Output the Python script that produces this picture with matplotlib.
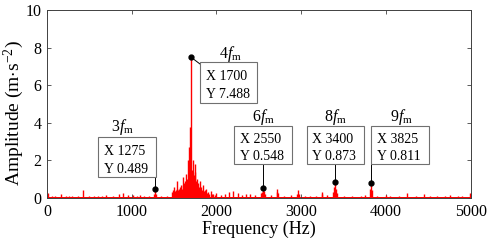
import matplotlib
matplotlib.use("Agg")
import matplotlib.pyplot as plt
from matplotlib.patches import Rectangle

plt.rcParams['font.family'] = ['Liberation Serif', 'DejaVu Serif']
plt.rcParams['mathtext.fontset'] = 'custom'
plt.rcParams['mathtext.rm'] = 'Liberation Serif'
plt.rcParams['mathtext.it'] = 'Liberation Serif:italic'

# spectrum spikes (Hz, m/s^2)
spike_freq = [10, 60, 100, 170, 220, 260, 300, 360, 425, 500, 560, 600, 650, 700, 780, 850,
              900, 960, 1020, 1060, 1100, 1150, 1200, 1265, 1275, 1285, 1350, 1420,
              1470, 1490, 1500, 1510, 1520, 1530, 1540, 1550, 1560, 1570, 1580, 1590,
              1600, 1610, 1620, 1630, 1640, 1650, 1655, 1665, 1676, 1690, 1700, 1710,
              1720, 1728, 1735, 1742, 1750, 1758, 1765, 1772, 1780, 1790, 1800, 1810,
              1820, 1830, 1840, 1850, 1860, 1870, 1880, 1890, 1900, 1915, 1930, 1945,
              1960, 1980, 2000, 2050, 2100, 2150, 2200, 2250, 2300, 2350, 2400, 2450,
              2530, 2540, 2550, 2560, 2570, 2640, 2710, 2720, 2730, 2800, 2880, 2950,
              2960, 2970, 3050, 3100, 3180, 3240, 3250, 3300, 3380, 3390, 3400, 3410,
              3420, 3500, 3600, 3700, 3750, 3815, 3825, 3835, 3900, 4000, 4050, 4150,
              4250, 4350, 4450, 4520, 4600, 4700, 4750, 4850, 4900, 4990]
spike_amp = [0.25, 0.1, 0.12, 0.2, 0.12, 0.1, 0.1, 0.12, 0.42, 0.12, 0.1, 0.1, 0.12, 0.15, 0.1, 0.2,
             0.25, 0.15, 0.18, 0.12, 0.15, 0.12, 0.1, 0.2, 0.489, 0.2, 0.08, 0.1,
             0.3, 0.45, 0.6, 0.35, 0.4, 0.5, 0.9, 0.45, 0.5, 0.6, 0.7, 0.5,
             1.1, 0.7, 0.8, 0.9, 1.3, 0.8, 1.0, 2.0, 2.7, 3.8, 7.488, 1.5,
             2.0, 1.1, 1.2, 1.4, 1.8, 0.9, 1.0, 0.7, 0.8, 0.6, 0.9, 0.5,
             0.6, 0.45, 0.7, 0.35, 0.4, 0.3, 0.5, 0.25, 0.3, 0.2, 0.35, 0.2,
             0.2, 0.15, 0.25, 0.15, 0.2, 0.3, 0.35, 0.25, 0.15, 0.2, 0.2, 0.15,
             0.25, 0.3, 0.548, 0.35, 0.2, 0.15, 0.3, 0.5, 0.25, 0.1, 0.15, 0.2,
             0.4, 0.2, 0.1, 0.1, 0.12, 0.2, 0.3, 0.15, 0.3, 0.6, 0.873, 0.5,
             0.25, 0.1, 0.1, 0.12, 0.15, 0.5, 0.811, 0.4, 0.12, 0.15, 0.1, 0.12,
             0.25, 0.12, 0.2, 0.1, 0.1, 0.12, 0.15, 0.1, 0.1, 0.25]
noise_floor = 0.07

# annotated harmonics
harm_labels = ['3', '4', '6', '8', '9']
harm_x = [1275, 1700, 2550, 3400, 3825]
harm_y = [0.489, 7.488, 0.548, 0.873, 0.811]

xticks = [0, 1000, 2000, 3000, 4000, 5000]
yticks = [0, 2, 4, 6, 8, 10]

W, H = 492, 240
AX_L, AX_R, AX_T, AX_B = 47, 470.7, 10, 198

fig = plt.figure(figsize=(W / 100, H / 100), dpi=100)
ax = fig.add_axes([AX_L / W, 1 - AX_B / H, (AX_R - AX_L) / W, (AX_B - AX_T) / H])
ax.set_xlim(0, 5000)
ax.set_ylim(0, 10)


def px2x(p):
    return (p - AX_L) / (AX_R - AX_L) * 5000


def px2y(p):
    return (AX_B - p) / (AX_B - AX_T) * 10


ax.axhspan(0, noise_floor, color='#ff0000', lw=0)
ax.vlines(spike_freq, 0, spike_amp, color='#ff0000', lw=1.0)
ax.plot(harm_x, harm_y, 'o', color='black', ms=3.5, zorder=5)

# layout in pixels: box (left, right, top, bottom), label centre, line end (None x => vertical)
layout = [
    ((98.3, 156, 136.7, 177.3), (122, 127), (None, 177.3)),
    ((200, 257, 61.7, 102.7), (230, 54.3), (200, 64)),
    ((234, 292, 125.7, 164), (263, 116.7), (None, 164)),
    ((306.7, 364, 125.7, 164), (335.5, 116.7), (None, 164)),
    ((371, 429.3, 125.7, 164), (401, 116.7), (None, 164)),
]
for lab, hx, hy, (box, lpos, lend) in zip(harm_labels, harm_x, harm_y, layout):
    l, r, t, b = box
    ex = hx if lend[0] is None else px2x(lend[0])
    ax.plot([hx, ex], [hy, px2y(lend[1])], color='black', lw=0.7, zorder=4)
    ax.add_patch(Rectangle((px2x(l), px2y(b)), px2x(r) - px2x(l), px2y(t) - px2y(b),
                           fc='white', ec='#707070', lw=0.8, zorder=6))
    hgt = b - t
    ax.text(px2x(l + 5.5), px2y(t + hgt * 0.37), f"X {hx}", ha='left', va='center',
            fontsize=10, zorder=7)
    ax.text(px2x(l + 5.5), px2y(t + hgt * 0.80), f"Y {hy:.3f}", ha='left', va='center',
            fontsize=10, zorder=7)
    ax.text(px2x(lpos[0]), px2y(lpos[1]), lab + r"$f_{\mathrm{m}}$", ha='center',
            va='center', fontsize=11.5)

ax.set_xticks(xticks)
ax.set_yticks(yticks)
ax.tick_params(direction='in', top=True, right=True, labelsize=11.5, length=3,
               width=0.6, color='#404040', pad=4)
for s in ax.spines.values():
    s.set_color('#404040')
    s.set_linewidth(0.7)
ax.set_xlabel('Frequency (Hz)', fontsize=13, labelpad=1)
ax.set_ylabel(r'Amplitude (m$\cdot$s$^{-2}$)', fontsize=14)
ax.yaxis.set_label_coords(-0.05, 0.452)

fig.savefig('out.png', dpi=100)
